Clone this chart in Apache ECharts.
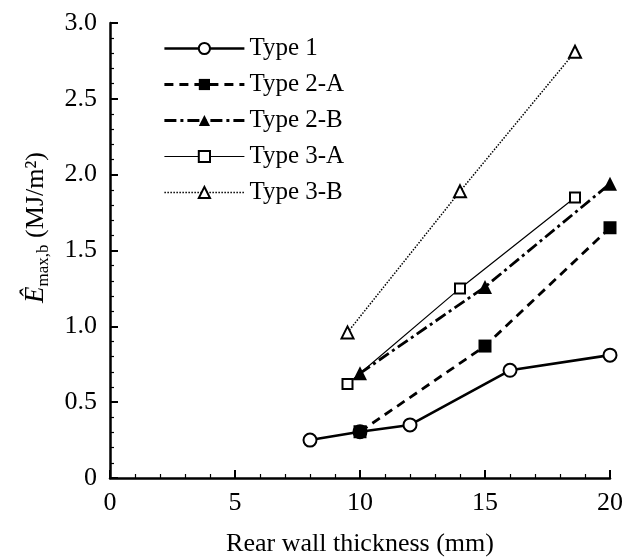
<!DOCTYPE html>
<html>
<head>
  <meta charset="utf-8"/>
  <script src="https://cdn.jsdelivr.net/npm/echarts@6/dist/echarts.min.js"></script>
  <style>
    html, body { margin: 0; padding: 0; background: #fff; }
    #chart { width: 622px; height: 560px; }
  </style>
</head>
<body>
<div id="chart"></div>
<script>
  // values: [thickness mm, E MJ/m2]
  var seriesNames = ['Type 1', 'Type 2-A', 'Type 2-B', 'Type 3-A', 'Type 3-B'];
  var type1 = [[8, 0.25], [10, 0.305], [12, 0.35], [16, 0.71], [20, 0.81]];
  var type2A = [[10, 0.305], [15, 0.87], [20, 1.65]];
  var type2B = [[10, 0.69], [15, 1.26], [20, 1.94]];
  var type3A = [[9.5, 0.62], [14, 1.25], [18.6, 1.85]];
  var type3B = [[9.5, 0.96], [14, 1.89], [18.6, 2.81]];

  var serif = 'Liberation Serif';
  var chart = echarts.init(document.getElementById('chart'));

  function line(name, data, symbol, size, filled, lineType, width) {
    return {
      name: name,
      type: 'line',
      data: data,
      symbol: symbol,
      symbolSize: size,
      showAllSymbol: true,
      itemStyle: {
        color: filled ? '#000' : '#fff',
        borderColor: '#000',
        borderWidth: filled ? 0 : 2
      },
      lineStyle: {color: '#000', width: width, type: lineType},
      emphasis: {disabled: true},
      animation: false
    };
  }

  var option = {
    animation: false,
    grid: {left: 110, right: 12, top: 23, bottom: 82, outerBoundsMode: 'none'},
    legend: {
      orient: 'vertical',
      left: 158,
      top: 31,
      itemWidth: 80,
      itemHeight: 14,
      itemGap: 11,
      data: seriesNames,
      lineStyle: {width: 'inherit'},
      itemStyle: {borderWidth: 'inherit'},
      textStyle: {fontFamily: serif, fontSize: 25, color: '#000'}
    },
    xAxis: {
      type: 'value',
      min: 0,
      max: 20,
      interval: 5,
      name: 'Rear wall thickness (mm)',
      nameLocation: 'middle',
      nameGap: 53,
      nameTextStyle: {fontFamily: serif, fontSize: 26, color: '#000'},
      axisLine: {lineStyle: {color: '#000', width: 2.5}},
      axisTick: {inside: true, length: 8, lineStyle: {color: '#000', width: 2}},
      minorTick: {show: true, splitNumber: 5, length: 4, lineStyle: {color: '#000', width: 1.2}},
      splitLine: {show: false},
      axisLabel: {fontFamily: serif, fontSize: 26, color: '#000', margin: 12}
    },
    yAxis: {
      type: 'value',
      min: 0,
      max: 3,
      interval: 0.5,
      name: '{e|Ê}{sub|max,b}{n| (MJ/m²)}',
      nameLocation: 'middle',
      nameRotate: 90,
      nameGap: 58,
      nameTextStyle: {
        fontFamily: serif, fontSize: 26, color: '#000',
        padding: [0, 0, 0, 46],
        rich: {
          e: {fontFamily: serif, fontSize: 27, fontStyle: 'italic', lineHeight: 32, verticalAlign: 'middle'},
          sub: {fontFamily: serif, fontSize: 17, lineHeight: 17, verticalAlign: 'bottom'},
          n: {fontFamily: serif, fontSize: 26, lineHeight: 32, verticalAlign: 'middle'}
        }
      },
      axisLine: {show: true, lineStyle: {color: '#000', width: 2.5}},
      axisTick: {show: true, inside: true, length: 8, lineStyle: {color: '#000', width: 2}},
      minorTick: {show: true, splitNumber: 5, length: 4, lineStyle: {color: '#000', width: 1.2}},
      splitLine: {show: false},
      axisLabel: {
        fontFamily: serif, fontSize: 26, color: '#000', margin: 13,
        formatter: function (v) { return v === 0 ? '0' : v.toFixed(1); }
      }
    },
    series: [
      line('Type 1', type1, 'circle', 13, false, 'solid', 2.6),
      line('Type 2-A', type2A, 'rect', 13, true, [9, 6], 2.8),
      line('Type 2-B', type2B, 'triangle', 14, true, [12, 4, 3, 4], 2.8),
      line('Type 3-A', type3A, 'rect', 10, false, 'solid', 1.2),
      line('Type 3-B', type3B, 'triangle', 12, false, [1.5, 1.5], 1.5)
    ]
  };
  chart.setOption(option);
</script>
</body>
</html>
